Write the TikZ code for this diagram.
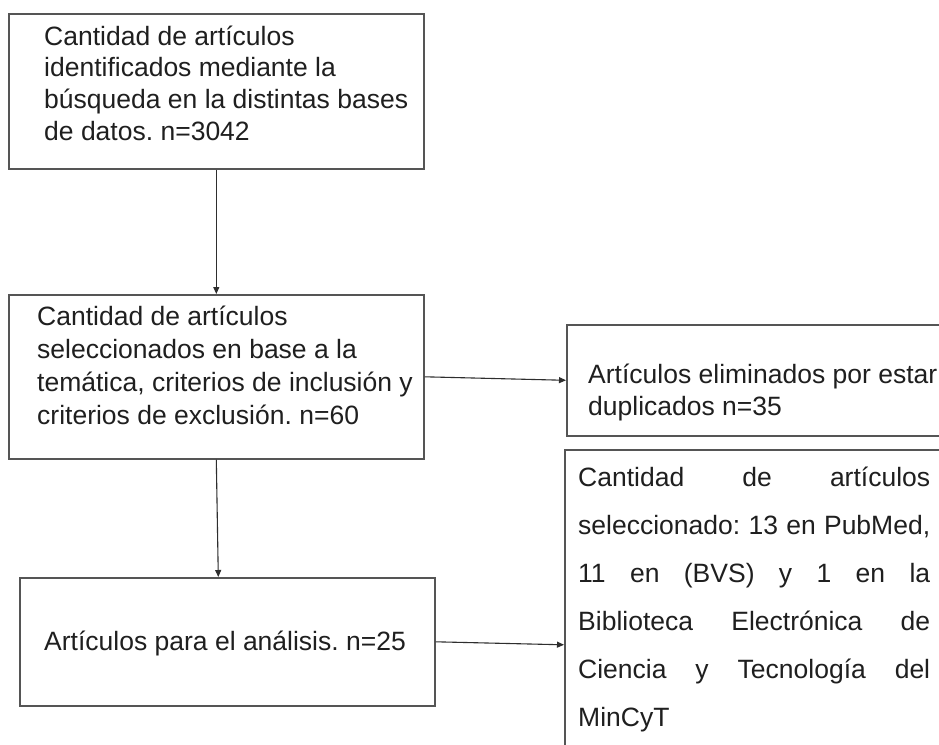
\documentclass[tikz,border=0pt]{standalone}
\usepackage{fontspec}
\setmainfont{Liberation Sans}
\usetikzlibrary{arrows.meta}
\definecolor{boxline}{HTML}{555555}
\definecolor{arrline}{HTML}{2E2E2E}
\newcommand{\ftxt}[1]{\fontsize{26.5}{#1}\selectfont}
\frenchspacing
\tikzset{
  boxnode/.style={draw=boxline, line width=1.6pt, rectangle, anchor=north west, inner sep=0pt},
  txt/.style={anchor=base west, inner sep=0pt, text=black!88},
  arr/.style={draw=arrline, line width=1.1pt, -{Triangle[length=7pt,width=6pt]}},
}
\begin{document}
\begin{tikzpicture}[x=1pt,y=-1pt]
\useasboundingbox (0,0) rectangle (939,744);
\clip (0,0) rectangle (939,744);
\fill[white] (0,0) rectangle (939,744);

\node[boxnode, minimum width=415pt, minimum height=155pt] (b1) at (8,13) {};
\node[boxnode, minimum width=415pt, minimum height=164pt] (b2) at (8,294) {};
\node[boxnode, minimum width=415pt, minimum height=128pt] (b3) at (19,577) {};
\node[boxnode, minimum width=400pt, minimum height=111pt] (b4) at (566,324) {};
\node[boxnode, minimum width=400pt, minimum height=320pt] (b5) at (564,449) {};

\node[txt] (t1) at (44,45) {\parbox[t]{400pt}{\ftxt{31.7}\raggedright\frenchspacing
Cantidad de artículos\\
identificados mediante la\\
búsqueda en la distintas bases\\
de datos. n=3042}};

\node[txt] (t2) at (37,325.5) {\parbox[t]{400pt}{\ftxt{33}\raggedright\frenchspacing
Cantidad de artículos\\
seleccionados en base a la\\
temática, criterios de inclusión y\\
criterios de exclusión. n=60}};

\node[txt] (t3) at (44,650) {\ftxt{31.7}\frenchspacing Artículos para el análisis. n=25};

\node[txt] (t4) at (588,383) {\parbox[t]{400pt}{\ftxt{32}\raggedright\frenchspacing
Artículos eliminados por estar\\
duplicados n=35}};

\node[txt] (t5) at (578,486) {\parbox[t]{352pt}{\ftxt{48}\raggedright\frenchspacing
\makebox[352pt][s]{Cantidad de artículos}\\
\makebox[352pt][s]{seleccionado: 13 en PubMed,}\\
\makebox[352pt][s]{11 en (BVS) y 1 en la}\\
\makebox[352pt][s]{Biblioteca Electrónica de}\\
\makebox[352pt][s]{Ciencia y Tecnología del}\\
MinCyT}};

\draw[arr] (b1.south) -- (b2.north);
\draw[arr] (b2.south) -- ([xshift=2pt]b2.south |- b3.north);
\draw[arr] (b2.east) -- (b4.west);
\draw[arr] (b3.east) -- ([yshift=-3pt]b3.east -| b5.west);
\end{tikzpicture}
\end{document}
